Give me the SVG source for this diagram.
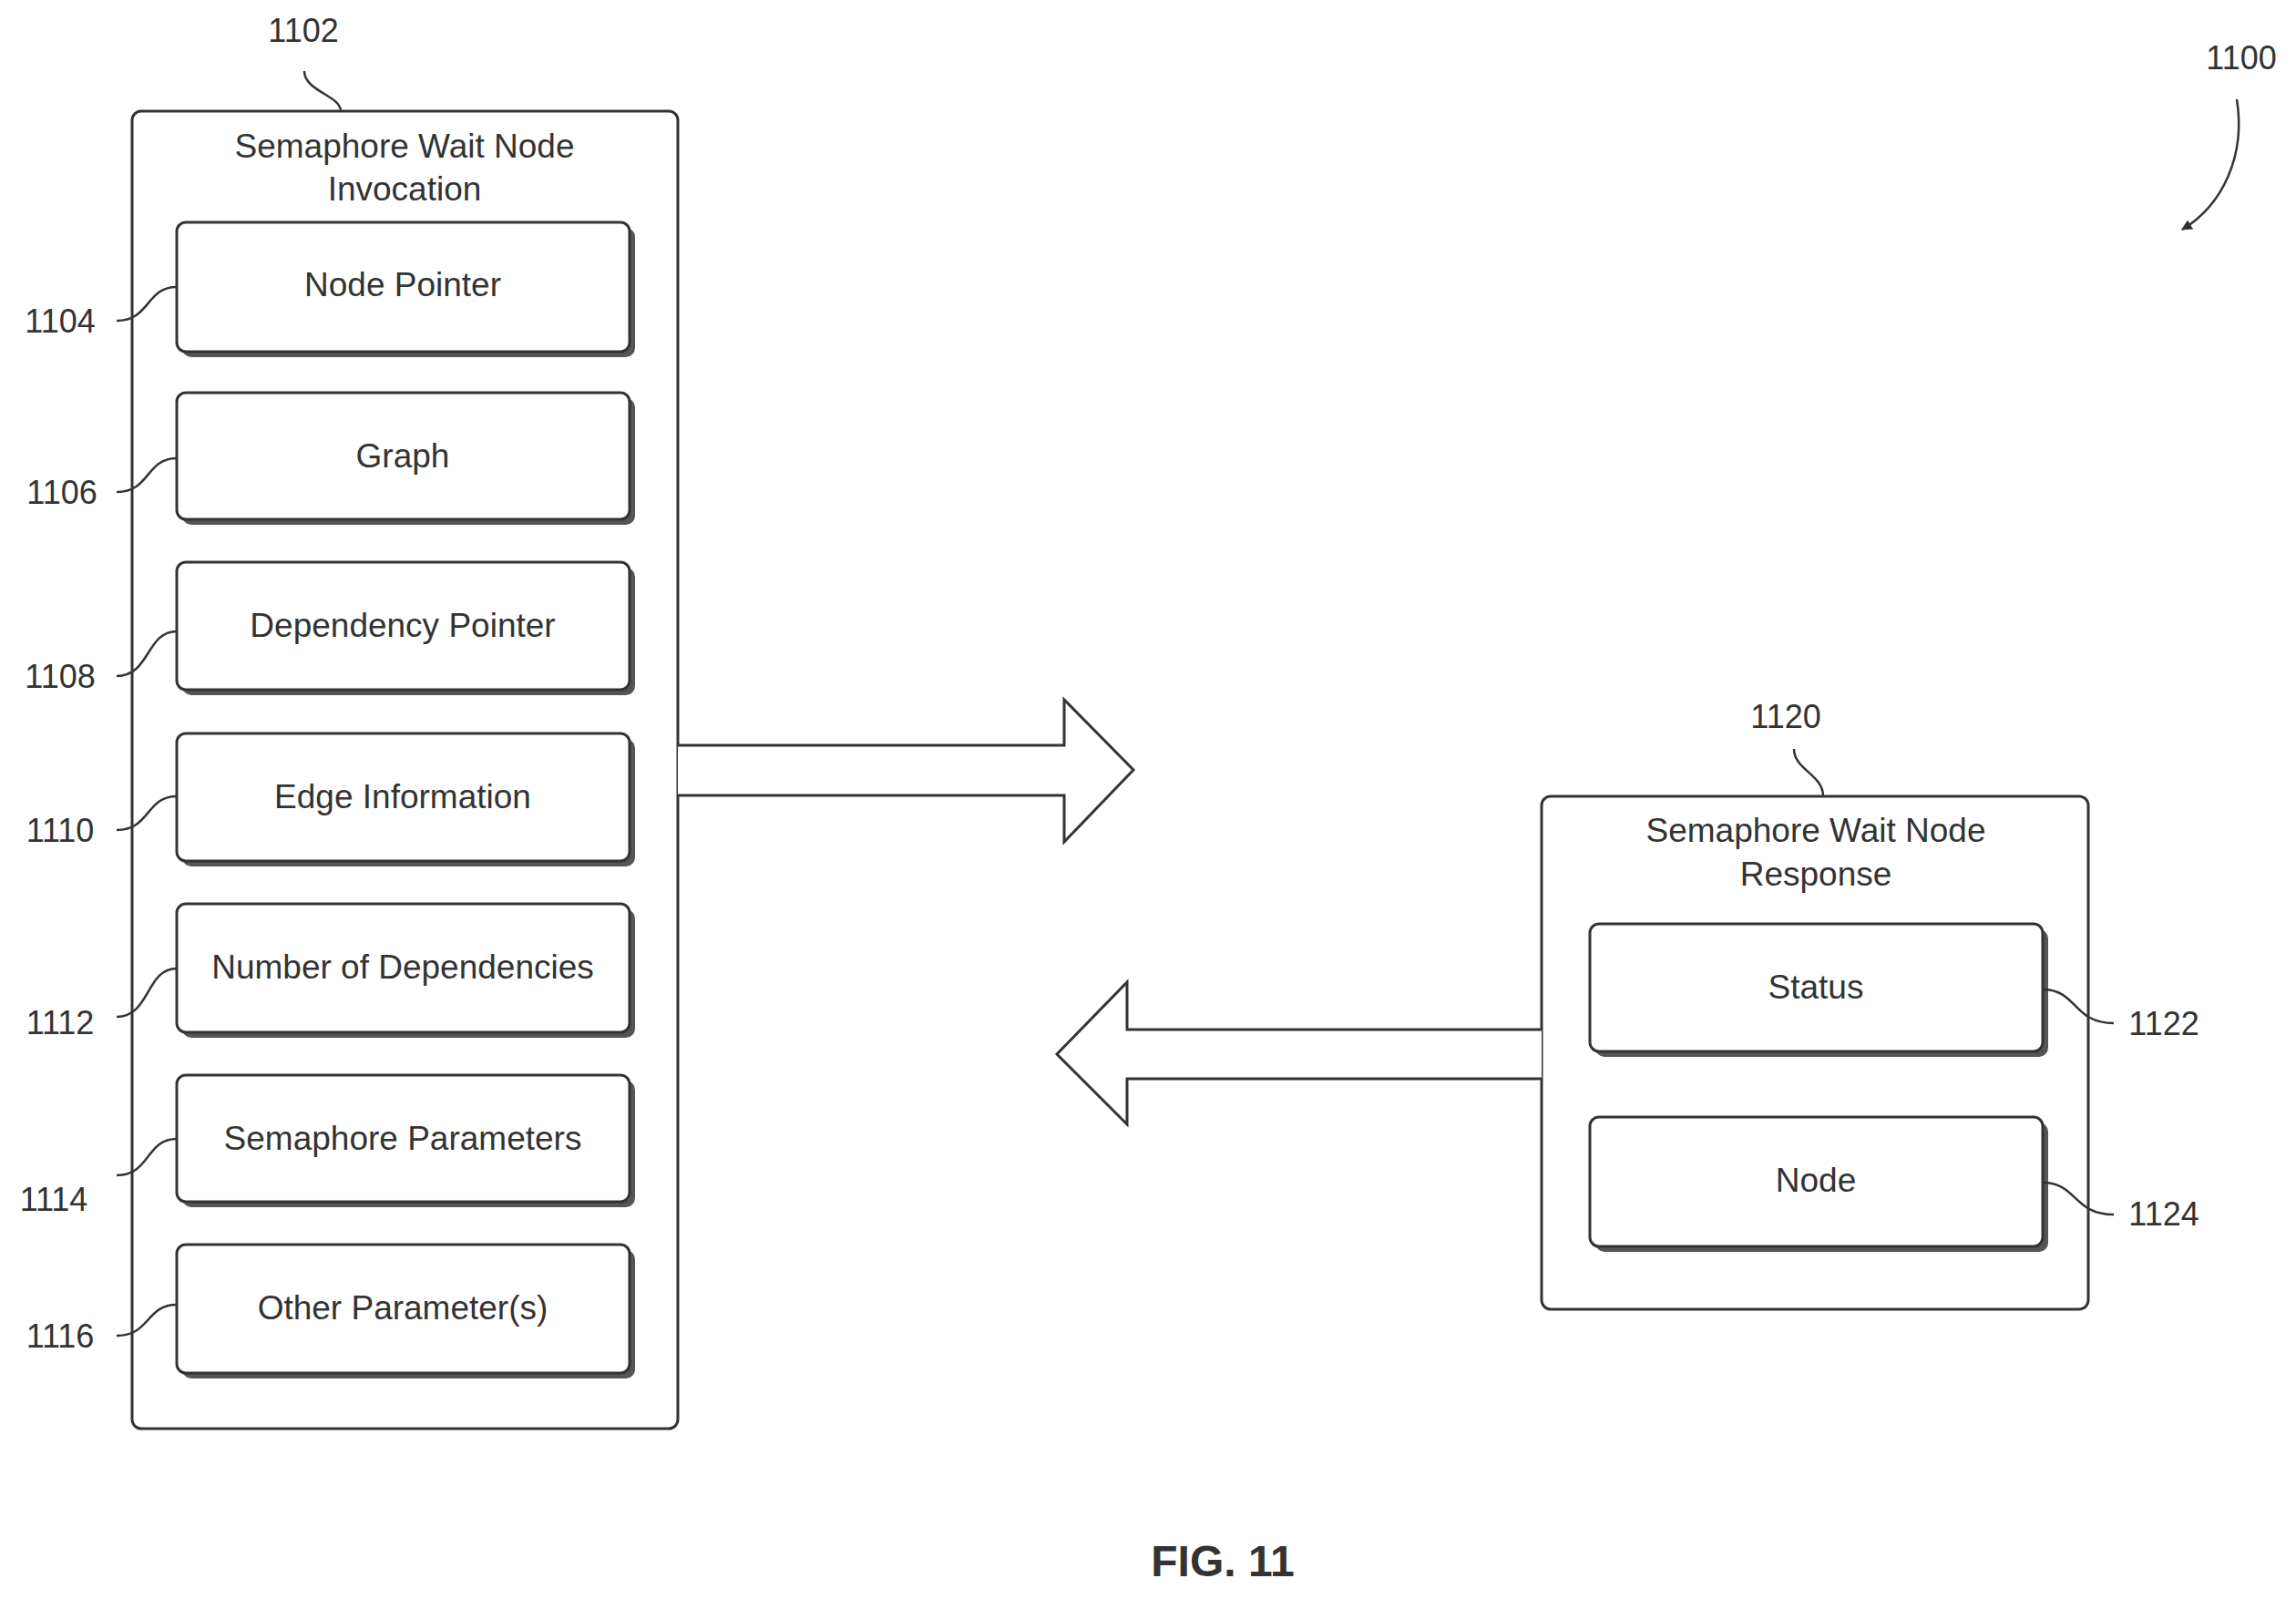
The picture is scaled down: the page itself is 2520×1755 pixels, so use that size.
<svg xmlns="http://www.w3.org/2000/svg" width="2520" height="1755" viewBox="0 0 2520 1755">
<style>
.t{font-family:"Liberation Sans",Arial,sans-serif;font-size:37px;fill:#333;text-anchor:middle}
.l{font-family:"Liberation Sans",Arial,sans-serif;font-size:36px;fill:#333;text-anchor:middle}
.box{fill:#fff;stroke:#333;stroke-width:3}
.sh{fill:#555}
.ld{fill:none;stroke:#333;stroke-width:2.5}
.ar{fill:#fff;stroke:#333;stroke-width:3;stroke-linejoin:miter}
</style>
<defs>
<marker id="ah" viewBox="0 0 10 10" refX="9" refY="5" markerWidth="12" markerHeight="12" markerUnits="userSpaceOnUse" orient="auto"><path d="M0,0 L10,5 L0,10 z" fill="#333"/></marker>
</defs>
<rect width="2520" height="1755" fill="#fff"/>
<g id="n1102">
<rect class="box" x="145" y="122" width="599" height="1446" rx="10"/>
<text class="t" x="444" y="173">Semaphore Wait Node</text>
<text class="t" x="444" y="220">Invocation</text>
</g>
<g id="n1104"><rect class="sh" x="200" y="250" width="497" height="142" rx="10"/><rect class="box" x="194" y="244" width="497" height="142" rx="10"/><text class="t" x="442" y="325">Node Pointer</text></g>
<g id="n1106"><rect class="sh" x="200" y="437" width="497" height="139" rx="10"/><rect class="box" x="194" y="431" width="497" height="139" rx="10"/><text class="t" x="442" y="513">Graph</text></g>
<g id="n1108"><rect class="sh" x="200" y="623" width="497" height="140" rx="10"/><rect class="box" x="194" y="617" width="497" height="140" rx="10"/><text class="t" x="442" y="699">Dependency Pointer</text></g>
<g id="n1110"><rect class="sh" x="200" y="811" width="497" height="140" rx="10"/><rect class="box" x="194" y="805" width="497" height="140" rx="10"/><text class="t" x="442" y="887">Edge Information</text></g>
<g id="n1112"><rect class="sh" x="200" y="998" width="497" height="141" rx="10"/><rect class="box" x="194" y="992" width="497" height="141" rx="10"/><text class="t" x="442" y="1074">Number of Dependencies</text></g>
<g id="n1114"><rect class="sh" x="200" y="1186" width="497" height="139" rx="10"/><rect class="box" x="194" y="1180" width="497" height="139" rx="10"/><text class="t" x="442" y="1262">Semaphore Parameters</text></g>
<g id="n1116"><rect class="sh" x="200" y="1372" width="497" height="141" rx="10"/><rect class="box" x="194" y="1366" width="497" height="141" rx="10"/><text class="t" x="442" y="1448">Other Parameter(s)</text></g>
<g id="n1120">
<rect class="box" x="1692" y="874" width="600" height="563" rx="10"/>
<text class="t" x="1993" y="924">Semaphore Wait Node</text>
<text class="t" x="1993" y="972">Response</text>
</g>
<g id="n1122"><rect class="sh" x="1751" y="1020" width="497" height="140" rx="10"/><rect class="box" x="1745" y="1014" width="497" height="140" rx="10"/><text class="t" x="1993" y="1096">Status</text></g>
<g id="n1124"><rect class="sh" x="1751" y="1232" width="497" height="142" rx="10"/><rect class="box" x="1745" y="1226" width="497" height="142" rx="10"/><text class="t" x="1993" y="1308">Node</text></g>
<g id="connectors">
<path class="ar" d="M744,818 L1168,818 L1168,768 L1244,845 L1168,924 L1168,873 L744,873"/>
<path class="ar" d="M1692,1130 L1237,1130 L1237,1078 L1160,1157 L1237,1234 L1237,1184 L1692,1184"/>
<path class="ld" d="M334,78 C334,100 374,105 374,122"/>
<path class="ld" d="M1969,822 C1969,845 2001,850 2001,874"/>
<path class="ld" d="M128,352 C165,352 160,315 194,315"/>
<path class="ld" d="M128,540 C165,540 160,503 194,503"/>
<path class="ld" d="M128,742 C165,742 160,693 194,693"/>
<path class="ld" d="M128,911 C165,911 160,874 194,874"/>
<path class="ld" d="M128,1116 C165,1116 160,1063 194,1063"/>
<path class="ld" d="M128,1290 C165,1290 160,1250 194,1250"/>
<path class="ld" d="M128,1466 C165,1466 160,1432 194,1432"/>
<path class="ld" d="M2242,1086 C2280,1086 2275,1123 2320,1123"/>
<path class="ld" d="M2242,1298 C2280,1298 2275,1333 2320,1333"/>
<path class="ld" marker-end="url(#ah)" d="M2455,109 C2465,170 2440,225 2395,252"/>
</g>
<g id="labels">
<text class="l" x="333" y="46">1102</text>
<text class="l" x="2460" y="76">1100</text>
<text class="l" x="66" y="365">1104</text>
<text class="l" x="68" y="553">1106</text>
<text class="l" x="66" y="755">1108</text>
<text class="l" x="66" y="924">1110</text>
<text class="l" x="66" y="1135">1112</text>
<text class="l" x="59" y="1329">1114</text>
<text class="l" x="66" y="1479">1116</text>
<text class="l" x="1960" y="799">1120</text>
<text class="l" x="2375" y="1136">1122</text>
<text class="l" x="2375" y="1345">1124</text>
<text x="1342" y="1730" style="font-family:'Liberation Sans',Arial,sans-serif;font-size:48px;font-weight:bold;fill:#333;text-anchor:middle">FIG. 11</text>
</g>
</svg>
